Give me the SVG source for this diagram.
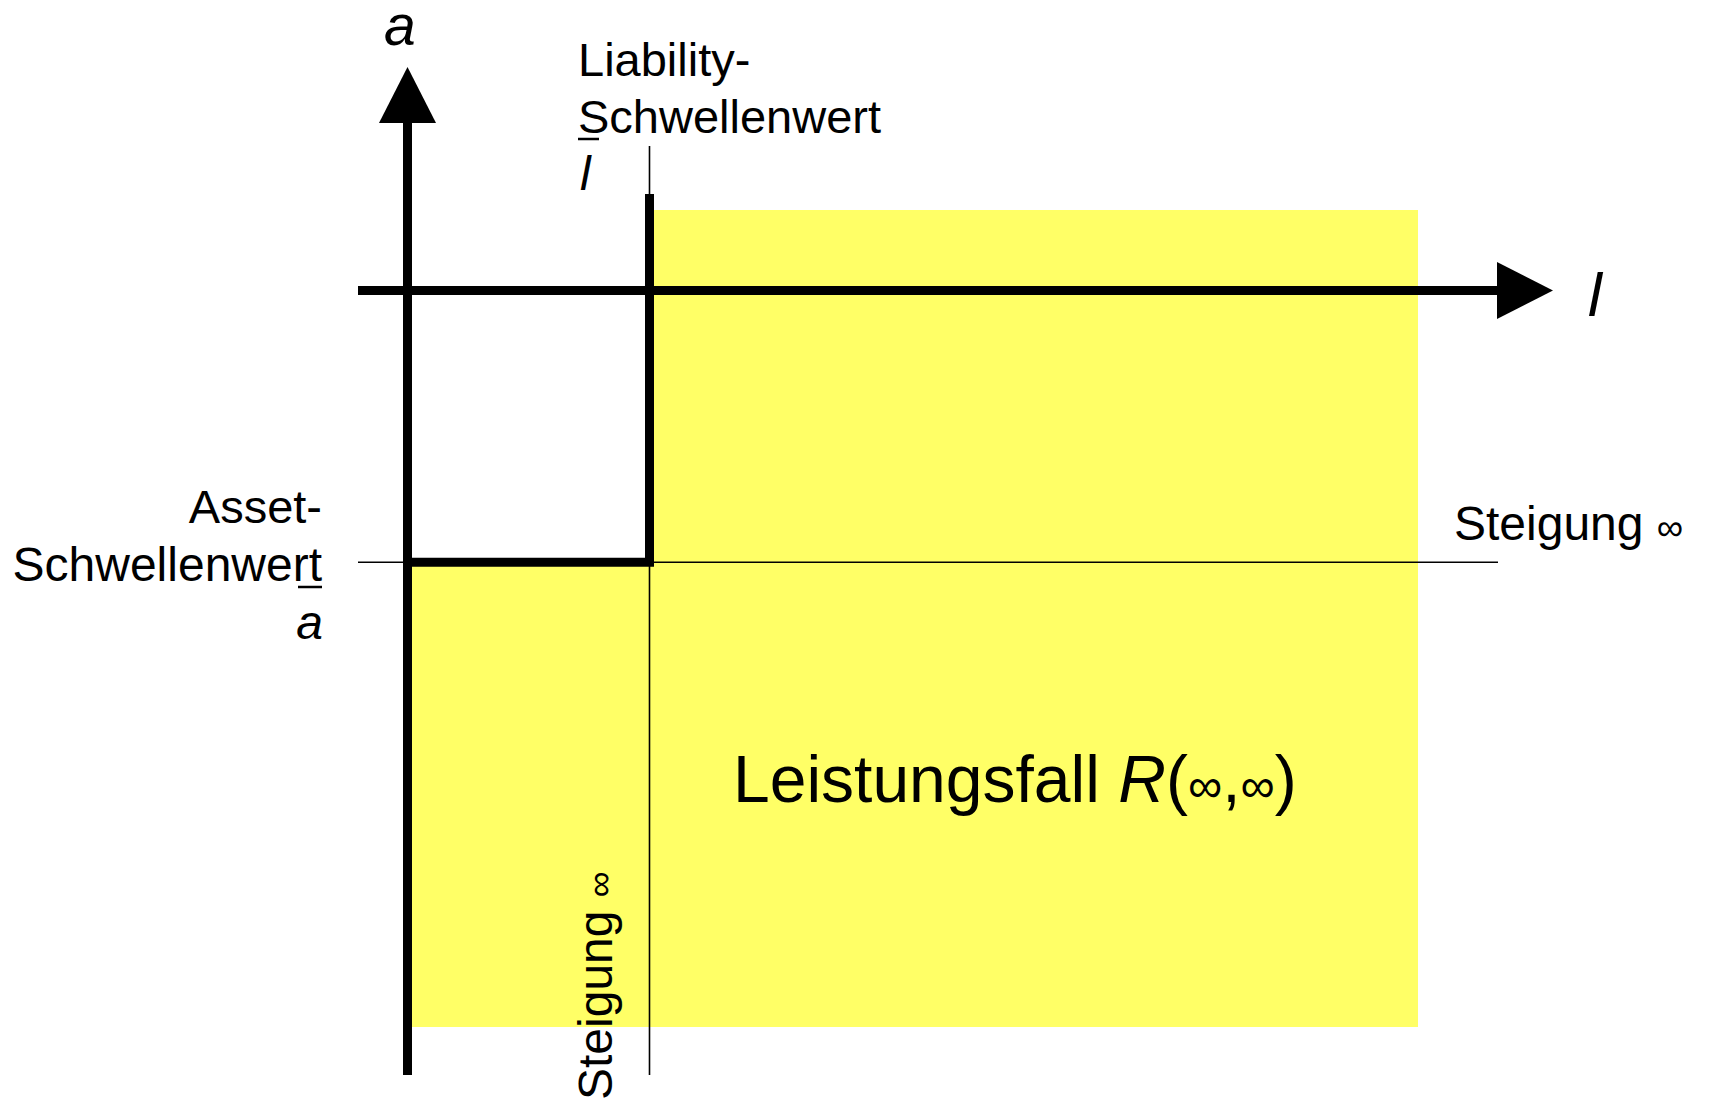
<svg xmlns="http://www.w3.org/2000/svg" width="1710" height="1100" viewBox="0 0 1710 1100">
  <style>
    .fill { fill: #ffff66; stroke: none; }
    .thin { stroke: #000; stroke-width: 1.6; fill: none; }
    .thick { stroke: #000; stroke-width: 9; fill: none; }
    .lbl { font-family: "Liberation Sans", Arial, sans-serif; fill: #000; }
    .it { font-style: italic; }
  </style>
  <defs>
    <marker id="arrow" markerUnits="userSpaceOnUse" markerWidth="57" markerHeight="58" refX="0" refY="28.5" orient="auto" overflow="visible">
      <path d="M0,0 L56,28.5 L0,57 Z" fill="#000"/>
    </marker>
  </defs>
  <rect width="1710" height="1100" fill="#fff"/>

  <g id="region-right">
    <rect class="fill" x="654" y="210" width="764" height="817"/>
  </g>
  <g id="region-left">
    <rect class="fill" x="407" y="562" width="247" height="465"/>
  </g>

  <g id="connectors">
    <line class="thin" x1="358" y1="562.3" x2="1498" y2="562.3"/>
    <line class="thin" x1="649.5" y1="146" x2="649.5" y2="1075"/>
    <path class="thick" d="M649.5,194 L649.5,562.3 L407,562.3" stroke-linejoin="miter"/>
    <line class="thick" x1="407.5" y1="1075" x2="407.5" y2="123" marker-end="url(#arrow)"/>
    <line class="thick" x1="358" y1="290.5" x2="1497" y2="290.5" marker-end="url(#arrow)"/>
  </g>

  <g id="label-a-axis">
    <text class="lbl it" x="384" y="45" font-size="57">a</text>
  </g>
  <g id="label-l-axis">
    <text class="lbl it" x="1588" y="316" font-size="62">l</text>
  </g>
  <g id="label-liability">
    <text class="lbl" x="578" y="76" font-size="47">Liability-</text>
    <text class="lbl" x="578" y="133" font-size="47">Schwellenwert</text>
    <line x1="578" y1="139" x2="599" y2="139" stroke="#000" stroke-width="2.5"/>
    <text class="lbl it" x="580" y="190" font-size="48">l</text>
  </g>
  <g id="label-asset">
    <text class="lbl" x="322" y="523" font-size="47" text-anchor="end">Asset-</text>
    <text class="lbl" x="322" y="581" font-size="48" text-anchor="end">Schwellenwert</text>
    <line x1="298" y1="587" x2="322" y2="587" stroke="#000" stroke-width="2.5"/>
    <text class="lbl it" x="323" y="639" font-size="48" text-anchor="end">a</text>
  </g>
  <g id="label-steigung-right">
    <text class="lbl" x="1454" y="540" font-size="48">Steigung <tspan font-size="37">∞</tspan></text>
  </g>
  <g id="label-steigung-vertical">
    <text class="lbl" transform="translate(612,1100) rotate(-90)" x="0" y="0" font-size="48">Steigung <tspan font-size="36">∞</tspan></text>
  </g>
  <g id="label-leistungsfall">
    <text class="lbl" x="733" y="802" font-size="66">Leistungsfall <tspan class="it">R</tspan>(<tspan font-size="48">∞</tspan>,<tspan font-size="48">∞</tspan>)</text>
  </g>
</svg>
